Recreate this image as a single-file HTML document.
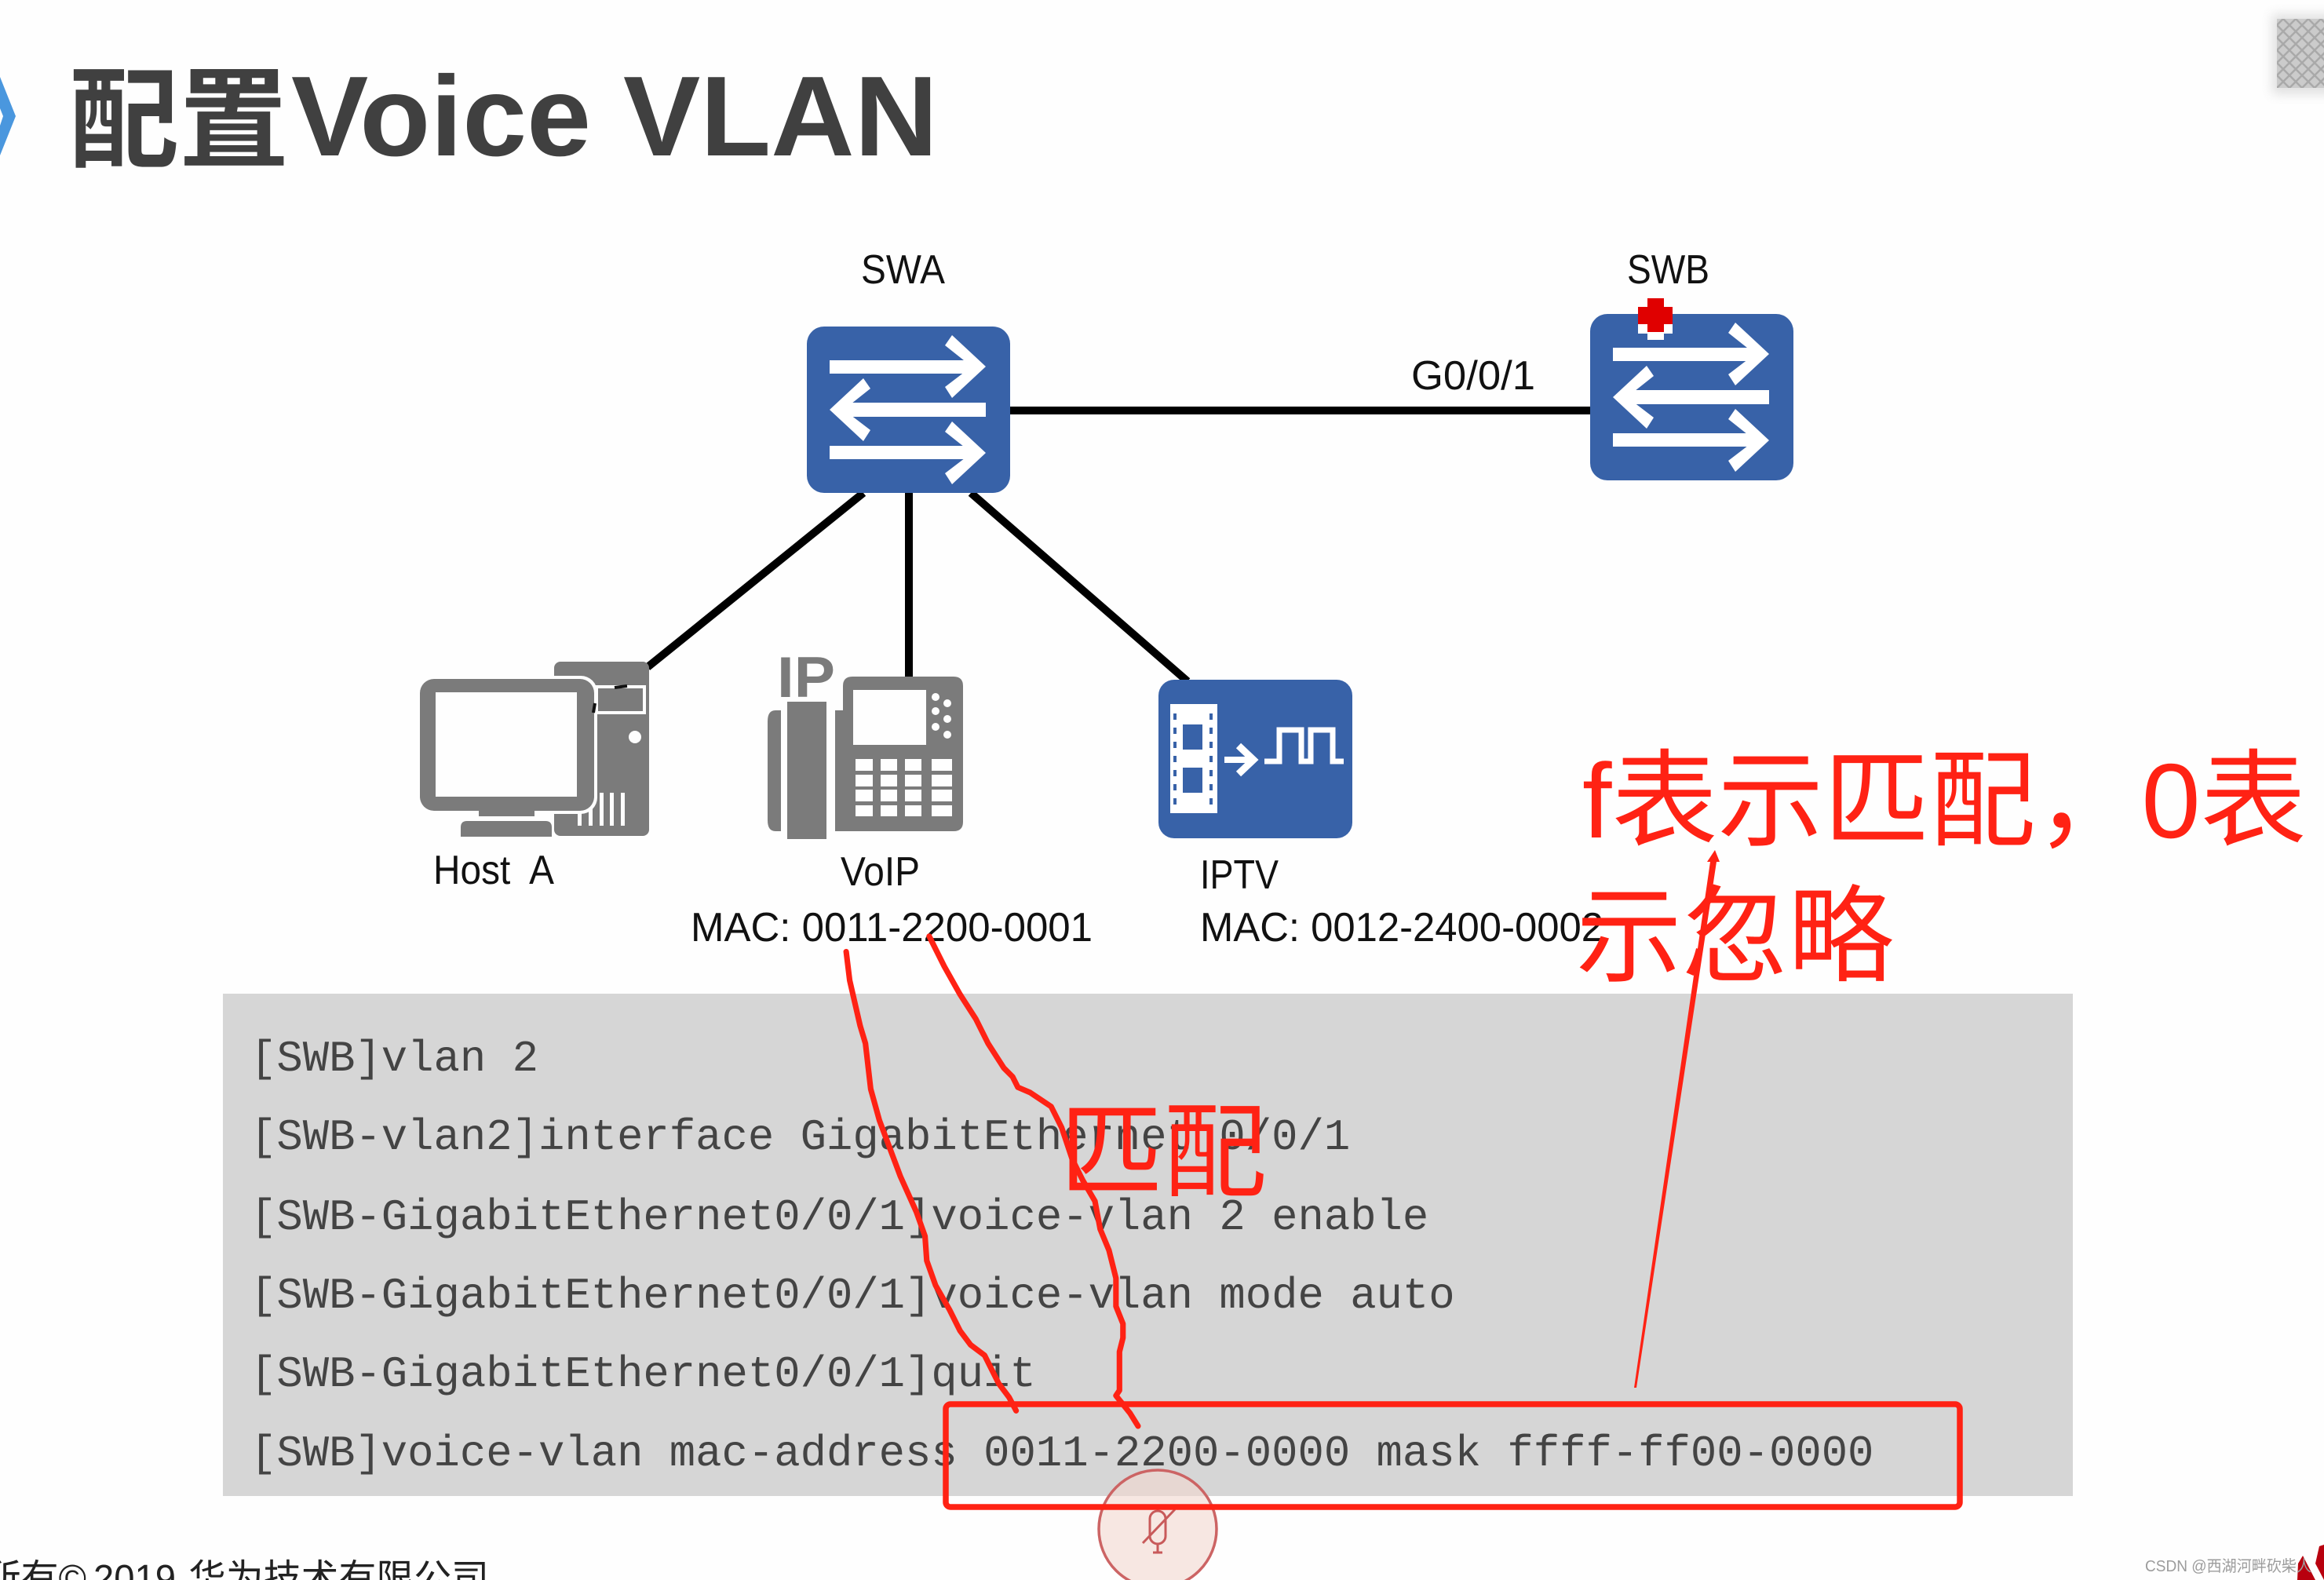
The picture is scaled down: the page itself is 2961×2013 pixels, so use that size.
<!DOCTYPE html>
<html><head><meta charset="utf-8"><title>配置Voice VLAN</title>
<style>html,body{margin:0;padding:0;background:#fefefe}svg{display:block}
.s{font-family:"Liberation Sans","Noto Sans CJK SC",sans-serif}
.c{font-family:"Liberation Sans","Noto Sans CJK SC",sans-serif}
.m{font-family:"Liberation Mono",monospace;font-size:55.6px;fill:#444}
</style></head><body>
<svg xmlns="http://www.w3.org/2000/svg" width="2961" height="2013" viewBox="0 0 2961 2013">
<defs>
<pattern id="dia" width="16" height="16" patternUnits="userSpaceOnUse" patternTransform="translate(2901 24)">
<rect width="16" height="16" fill="#cbcbcb"/><path d="M0 8L8 0L16 8L8 16Z" fill="none" stroke="#a9a9a9" stroke-width="2.5"/>
</pattern>
<filter id="bl" x="-30%" y="-30%" width="160%" height="160%"><feGaussianBlur stdDeviation="7"/></filter>
<g id="sw">
<rect x="1028" y="416" width="259" height="212" rx="22" fill="#3862a8"/>
<g fill="#fff">
<rect x="1057" y="459" width="183" height="17"/><polygon points="1213,427 1256,467 1213,507 1204,493 1238,467 1204,440"/>
<rect x="1073" y="513" width="183" height="18"/><polygon points="1100,482 1057,522 1100,562 1109,548 1075,522 1109,495"/>
<rect x="1057" y="568" width="183" height="17"/><polygon points="1213,537 1256,577 1213,617 1204,603 1238,577 1204,550"/>
</g></g>
</defs>
<rect width="2961" height="2013" fill="#fefefe"/>

<!-- corner square -->
<rect x="2895" y="18" width="80" height="102" fill="#bbb" opacity=".45" filter="url(#bl)"/>
<rect x="2901" y="24" width="60" height="88" fill="url(#dia)"/>

<!-- title -->
<polygon points="0,98 20,148 0,198 0,160 4,148 0,138" fill="#4a97de"/>
<text x="88" y="202" class="c" font-size="140" font-weight="700" fill="#404040" textLength="280" lengthAdjust="spacingAndGlyphs">配置</text>
<text x="371" y="198" class="s" font-size="145" font-weight="700" fill="#404040" textLength="824" lengthAdjust="spacingAndGlyphs">Voice VLAN</text>

<!-- links -->
<g stroke="#000" stroke-width="10" fill="none">
<line x1="1287" y1="523" x2="2026" y2="523"/>
<line x1="1100" y1="628" x2="825" y2="850"/>
<line x1="1158" y1="628" x2="1158" y2="864"/>
<line x1="1237" y1="628" x2="1513" y2="868"/>
</g>

<!-- switches -->
<use href="#sw"/>
<use href="#sw" transform="translate(998 -16)"/>
<g>
<rect x="2087" y="391" width="44" height="34" fill="#fff"/><rect x="2099" y="420" width="21" height="13" fill="#fff"/>
<rect x="2099" y="380" width="21" height="43" fill="#e00000"/><rect x="2087" y="391" width="44" height="22" fill="#e00000"/>
</g>

<!-- labels -->
<g class="s" font-size="52" fill="#111">
<text x="1097" y="361" textLength="107" lengthAdjust="spacingAndGlyphs">SWA</text>
<text x="2073" y="361" textLength="105" lengthAdjust="spacingAndGlyphs">SWB</text>
<text x="1798" y="496" textLength="158" lengthAdjust="spacingAndGlyphs">G0/0/1</text>
<text x="552" y="1126" textLength="154" lengthAdjust="spacingAndGlyphs" xml:space="preserve">Host  A</text>
<text x="1071" y="1128" textLength="101" lengthAdjust="spacingAndGlyphs">VoIP</text>
<text x="1529" y="1132" textLength="100" lengthAdjust="spacingAndGlyphs">IPTV</text>
<text x="880" y="1199" textLength="512" lengthAdjust="spacingAndGlyphs">MAC: 0011-2200-0001</text>
<text x="1529" y="1199" textLength="514" lengthAdjust="spacingAndGlyphs">MAC: 0012-2400-0002</text>
</g>

<!-- host -->
<g fill="#7b7b7b">
<rect x="706" y="843" width="121" height="222" rx="8"/>
<rect x="531" y="861" width="230" height="176" rx="21" fill="#fefefe"/>
<rect x="690" y="1037" width="16" height="33" fill="#fefefe"/>
<rect x="535" y="865" width="222" height="168" rx="18"/>
<rect x="555" y="882" width="180" height="133" fill="#fefefe"/>
<rect x="610" y="1033" width="71" height="7"/>
<path d="M587 1066V1054Q587 1046 595 1046H695Q703 1046 703 1054V1066Z"/>
<rect x="760" y="875" width="61" height="33" fill="#7b7b7b" stroke="#fefefe" stroke-width="4"/>
<circle cx="809" cy="939" r="8" fill="#fefefe"/>
<g fill="#fefefe"><rect x="736" y="1035" width="5" height="17"/><rect x="750" y="1030" width="5" height="22"/><rect x="764" y="1010" width="5" height="42"/><rect x="777" y="1010" width="5" height="42"/><rect x="791" y="1010" width="5" height="42"/></g>
</g>
<g stroke="#111" stroke-width="4"><line x1="783" y1="876" x2="799" y2="874"/><line x1="758" y1="896" x2="756" y2="908"/></g>

<!-- phone -->
<text x="990" y="888" class="s" font-size="73" font-weight="700" fill="#7b7b7b" textLength="74" lengthAdjust="spacingAndGlyphs">IP</text>
<g fill="#7b7b7b">
<path d="M1074 905V874Q1074 862 1086 862H1215Q1227 862 1227 874V1047Q1227 1059 1215 1059H1064V905Z"/>
<rect x="1003" y="894" width="50" height="175"/>
<path d="M995 905V1059H988Q978 1059 978 1045V919Q978 905 988 905Z"/>
</g>
<g fill="#fefefe">
<rect x="1087" y="879" width="93" height="70"/>
<circle cx="1192" cy="888" r="5"/><circle cx="1207" cy="896" r="5"/><circle cx="1192" cy="906" r="5"/><circle cx="1207" cy="916" r="5"/><circle cx="1192" cy="926" r="5"/><circle cx="1207" cy="936" r="5"/>
<rect x="1090" y="967" width="22" height="15"/><rect x="1122" y="967" width="21" height="15"/><rect x="1153" y="967" width="21" height="15"/><rect x="1187" y="967" width="26" height="15"/>
<rect x="1090" y="987" width="22" height="15"/><rect x="1122" y="987" width="21" height="15"/><rect x="1153" y="987" width="21" height="15"/><rect x="1187" y="987" width="26" height="15"/>
<rect x="1090" y="1006" width="22" height="15"/><rect x="1122" y="1006" width="21" height="15"/><rect x="1153" y="1006" width="21" height="15"/><rect x="1187" y="1006" width="26" height="15"/>
<rect x="1090" y="1026" width="22" height="14"/><rect x="1122" y="1026" width="21" height="14"/><rect x="1153" y="1026" width="21" height="14"/><rect x="1187" y="1026" width="26" height="14"/>
</g>

<!-- iptv -->
<rect x="1476" y="866" width="247" height="202" rx="20" fill="#3862a8"/>
<rect x="1491" y="897" width="60" height="139" fill="#fff"/>
<g fill="#3862a8">
<rect x="1507" y="923" width="25" height="32"/><rect x="1507" y="978" width="25" height="32"/>
<g id="d"><rect x="1495" y="909" width="4" height="8"/><rect x="1495" y="927" width="4" height="8"/><rect x="1495" y="945" width="4" height="8"/><rect x="1495" y="963" width="4" height="8"/><rect x="1495" y="981" width="4" height="8"/><rect x="1495" y="999" width="4" height="8"/><rect x="1495" y="1017" width="4" height="8"/></g>
<use href="#d" transform="translate(46 0)"/>
</g>
<g fill="none" stroke="#fff" stroke-width="8">
<line x1="1560" y1="968" x2="1596" y2="968"/>
<polyline points="1578,950 1597,968 1578,986" stroke-width="9"/>
<polyline points="1611,970 1630,970 1630,930 1658,930 1658,970 1670,970 1670,930 1698,930 1698,970 1712,970" stroke-width="7"/>
</g>

<!-- code panel -->
<rect x="284" y="1266" width="2357" height="640" fill="#d6d6d6"/>
<g class="m" xml:space="preserve">
<text x="319" y="1364">[SWB]vlan 2</text>
<text x="319" y="1464">[SWB-vlan2]interface GigabitEthernet 0/0/1</text>
<text x="319" y="1566">[SWB-GigabitEthernet0/0/1]voice-vlan 2 enable</text>
<text x="319" y="1666">[SWB-GigabitEthernet0/0/1]voice-vlan mode auto</text>
<text x="319" y="1766">[SWB-GigabitEthernet0/0/1]quit</text>
<text x="319" y="1867">[SWB]voice-vlan mac-address 0011-2200-0000 mask ffff-ff00-0000</text>
</g>

<!-- mic -->
<circle cx="1475" cy="1948" r="75" fill="#f2d8d0" fill-opacity=".62" stroke="#cc6464" stroke-width="3.5"/>
<g fill="none" stroke="#c85a5a" stroke-width="3">
<rect x="1465" y="1925" width="20" height="42" rx="10"/>
<line x1="1497" y1="1923" x2="1456" y2="1966"/>
<line x1="1475" y1="1967" x2="1475" y2="1978"/><line x1="1469" y1="1978" x2="1481" y2="1978"/>
</g>

<!-- red annotations -->
<rect x="1205" y="1789" width="1292" height="131" rx="6" fill="none" stroke="#ff2214" stroke-width="7.5"/>
<g transform="translate(1000 1200) scale(.4464)" fill="none" stroke="#ff2214" stroke-width="16" stroke-linecap="round" stroke-linejoin="round">
<polyline points="175,28 185,110 215,240 230,290 245,420 270,510 300,590 330,670 375,770 400,840 405,910 430,980 470,1050 500,1110 530,1150 570,1180 610,1260 640,1300 660,1338"/>
<polyline points="412,-16 455,70 500,150 545,220 580,290 625,360 650,385 665,415 700,430 760,470 790,530 820,620 850,680 885,740 900,820 925,880 945,960 945,1040 965,1090 965,1130 955,1170 955,1280 945,1295 985,1345 1008,1382"/>
</g>
<g class="c" fill="#ff2214">
<text x="1350" y="1514" font-size="132">匹配</text>
<text x="2016" y="1067" font-size="135" xml:space="preserve">f表示匹配，0表</text>
<text x="2008" y="1240" font-size="135">示忽略</text>
</g>
<polygon points="2082,1768 2085,1768 2187,1098 2191,1098 2185,1083 2175,1098 2179,1098" fill="#ff2214"/>

<!-- footer -->
<g class="c" font-size="48" fill="#222">
<text x="110" y="2027" text-anchor="end">版权所有©</text>
<text x="119" y="2027" textLength="105" lengthAdjust="spacingAndGlyphs">2019</text>
<text x="240" y="2027" textLength="383" lengthAdjust="spacingAndGlyphs">华为技术有限公司</text>
</g>
<g fill="#b8000e">
<polygon points="2927,2013 2928,1992 2934,1982 2950,2013"/>
<polygon points="2950,1992 2955,1970 2961,1968 2961,2013"/>
</g>
<text x="2733" y="2002" class="s" font-size="20" fill="#9c9c9c" textLength="212" lengthAdjust="spacingAndGlyphs">CSDN @西湖河畔砍柴人</text>
</svg>
</body></html>
